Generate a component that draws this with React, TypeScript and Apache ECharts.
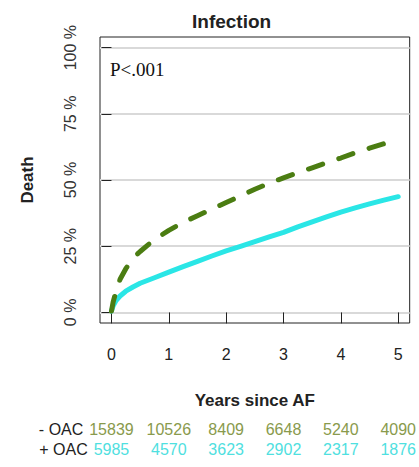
import React, { useEffect, useRef } from "react";
import * as echarts from "echarts";

// Cumulative incidence of death from infection by OAC status
const years = [0, 0.03, 0.08, 0.15, 0.25, 0.375, 0.5, 0.75, 1, 1.25, 1.5, 1.75, 2, 2.25, 2.5, 2.75, 3, 3.25, 3.5, 3.75, 4, 4.25, 4.5, 4.75, 5];
const deathNoOac = [0.5, 4, 8, 12.5, 16.5, 20.5, 23, 27.5, 31, 34, 36.5, 39, 41.5, 44, 46.5, 48.8, 50.8, 52.8, 54.6, 56.5, 58.3, 60.3, 62, 63.7, 65.2];
const deathOac = [0.5, 2.5, 4.5, 6.2, 8, 9.6, 11, 13.1, 15.2, 17.3, 19.3, 21.3, 23.2, 24.9, 26.7, 28.5, 30.2, 32.3, 34.2, 36.1, 37.9, 39.5, 41, 42.4, 43.7];

// Numbers at risk at each whole year
const riskYears = [0, 1, 2, 3, 4, 5];
const atRiskNoOac = [15839, 10526, 8409, 6648, 5240, 4090];
const atRiskOac = [5985, 4570, 3623, 2902, 2317, 1876];

const yTicks = [0, 25, 50, 75, 100];

const GREEN = "#4b7d12";
const CYAN = "#2ae6e6";
const GREEN_TXT = "#899a4c";
const CYAN_TXT = "#4fe0e0";
const SANS = "Liberation Sans, Arial, sans-serif";

export default function App() {
  const ref = useRef<HTMLDivElement>(null);

  useEffect(() => {
    if (!ref.current) return;
    const chart = echarts.init(ref.current, null, { renderer: "svg" });

    const riskAxis = (name: string, values: number[], color: string, offset: number) => ({
      type: "value",
      gridIndex: 0,
      position: "bottom",
      offset,
      min: -0.2,
      max: 5.2,
      name,
      nameLocation: "start",
      nameGap: 12,
      nameTextStyle: { color: "#222", fontSize: 16, fontFamily: SANS, verticalAlign: "middle" },
      axisLine: { show: false },
      axisTick: { show: false },
      splitLine: { show: false },
      axisLabel: {
        customValues: riskYears,
        margin: 0,
        verticalAlign: "middle",
        color,
        fontSize: 16,
        fontFamily: SANS,
        formatter: (v: number) => String(values[riskYears.indexOf(Math.round(v))] ?? ""),
      },
    });

    chart.setOption({
      animation: false,
      backgroundColor: "#ffffff",
      title: {
        text: "Infection",
        left: 187,
        top: 7,
        textStyle: { fontFamily: SANS, fontSize: 19, fontWeight: "bold", color: "#222" },
      },
      grid: {
        left: 100,
        right: 9,
        top: 37,
        bottom: 144,
        show: true,
        borderColor: "#222",
        borderWidth: 1,
        backgroundColor: "transparent",
      },
      xAxis: [
        {
          type: "value",
          min: -0.2,
          max: 5.2,
          name: "Years since AF",
          nameLocation: "middle",
          nameGap: 77,
          nameTextStyle: { fontFamily: SANS, fontSize: 17, fontWeight: "bold", color: "#222", verticalAlign: "middle" },
          axisLine: { show: false },
          axisTick: { show: true, customValues: riskYears, length: 11, lineStyle: { color: "#222", width: 1 } },
          axisLabel: { customValues: riskYears, margin: 23, fontFamily: SANS, fontSize: 16, color: "#222" },
          splitLine: { show: false },
        },
        riskAxis("- OAC", atRiskNoOac, GREEN_TXT, 106),
        riskAxis("+ OAC", atRiskOac, CYAN_TXT, 126),
      ],
      yAxis: {
        type: "value",
        min: -4,
        max: 104,
        name: "Death",
        nameLocation: "middle",
        nameGap: 64,
        nameRotate: 90,
        nameTextStyle: { fontFamily: SANS, fontSize: 17, fontWeight: "bold", color: "#222" },
        axisLine: { show: false },
        axisTick: { show: true, customValues: yTicks, length: 10, lineStyle: { color: "#222", width: 1 } },
        axisLabel: {
          customValues: yTicks,
          rotate: 90,
          margin: 22,
          fontFamily: SANS,
          fontSize: 16,
          color: "#333",
          formatter: (v: number) => `${v} %`,
        },
        splitLine: { show: true, lineStyle: { color: "#d9d9d9", width: 2 } },
      },
      graphic: [
        {
          type: "text",
          left: 110,
          top: 60,
          style: { text: "P<.001", font: "19px 'Liberation Serif', 'Times New Roman', serif", fill: "#111" },
        },
      ],
      series: [
        {
          type: "line",
          name: "+ OAC",
          data: years.map((x, i) => [x, deathOac[i]]),
          showSymbol: false,
          smooth: false,
          lineStyle: { color: CYAN, width: 5, cap: "round", join: "round" },
        },
        {
          type: "line",
          name: "- OAC",
          data: years.map((x, i) => [x, deathNoOac[i]]),
          showSymbol: false,
          smooth: false,
          lineStyle: { color: GREEN, width: 5, type: [15, 17], cap: "round", join: "round" },
        },
      ],
    });

    return () => chart.dispose();
  }, []);

  return <div ref={ref} style={{ position: "fixed", left: 0, top: 0, width: 419, height: 467 }} />;
}
